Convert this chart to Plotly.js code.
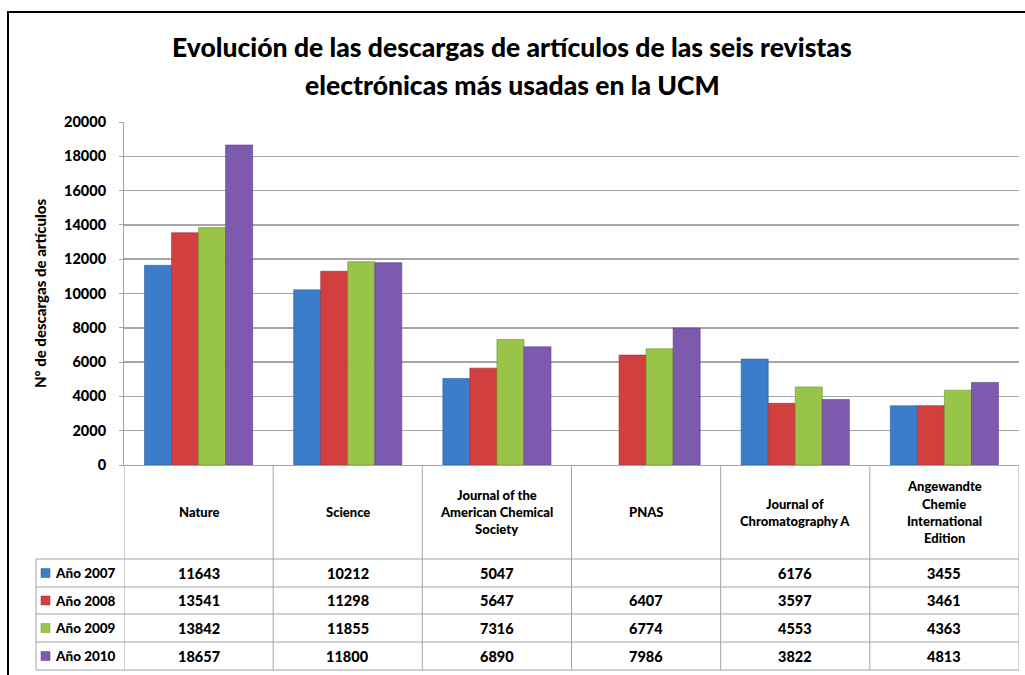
<!DOCTYPE html>
<html><head><meta charset="utf-8">
<script src="https://cdn.plot.ly/plotly-3.0.1.min.js"></script>
<style>body{margin:0;background:#fff}#chart{width:1025px;height:675px}</style>
</head><body><div id="chart"></div>
<script>
const categories = ['Nature','Science','Journal of the American Chemical Society','PNAS','Journal of Chromatography A','Angewandte Chemie International Edition'];
const categoryLabels = ['Nature','Science','Journal of the<br>American Chemical<br>Society','PNAS','Journal of<br>Chromatography A','Angewandte<br>Chemie<br>International<br>Edition'];
const seriesNames = ['Año 2007','Año 2008','Año 2009','Año 2010'];
const y2007 = [11643,10212,5047,null,6176,3455];
const y2008 = [13541,11298,5647,6407,3597,3461];
const y2009 = [13842,11855,7316,6774,4553,4363];
const y2010 = [18657,11800,6890,7986,3822,4813];
const yTickVals = [0,2000,4000,6000,8000,10000,12000,14000,16000,18000,20000];
const titleLines = ['Evolución de las descargas de artículos de las seis revistas','electrónicas más usadas en la UCM'];
const yTitle = 'Nº de descargas de artículos';

const seriesValues = [y2007,y2008,y2009,y2010];
const colors = ['#3b7dcb','#d23f3f','#98c447','#7d5aae'];
const lineColors = ['#2c5f9e','#a02c2c','#6f9430','#5c4285'];
const FONT = 'Lato, "Open Sans", sans-serif';
const W9 = 900;

// plot-area pixel geometry
const L = 124, R = 1019, T = 122, B = 465;
const px = x => (x - L) / (R - L);
const py = y => (B - y) / (B - T);

const traces = seriesNames.map((n, s) => ({
  type: 'bar', name: n, x: categories, y: seriesValues[s],
  marker: {color: colors[s], line: {color: lineColors[s], width: 0.6}},
  showlegend: false, hoverinfo: 'skip'
}));

const gridC = '#a6a6a6';
const shapes = [];
const annotations = [];
// outer frame
shapes.push({type:'rect', xref:'paper', yref:'paper', x0:px(8), x1:px(1035), y0:py(12), y1:py(700), line:{color:'#000', width:2}, layer:'below'});
// table rows
const rowY = [559, 587, 614, 642, 670];
rowY.forEach((y, i) => {
  shapes.push({type:'line', xref:'paper', yref:'paper', x0:px(36), x1:px(R), y0:py(y), y1:py(y), line:{color:gridC, width:1}});
});
// vertical lines at category boundaries
for (let i = 0; i <= categories.length; i++) {
  shapes.push({type:'line', xref:'x', yref:'paper', x0:i-0.5, x1:i-0.5, y0:py(B), y1:py(670), line:{color:gridC, width:1}});
}
shapes.push({type:'line', xref:'paper', yref:'paper', x0:px(36), x1:px(36), y0:py(559), y1:py(670), line:{color:gridC, width:1}});

// title
titleLines.forEach((t, i) => annotations.push({xref:'paper', yref:'paper', x:px(512), y:py(47 + i*38), text:t, showarrow:false, xanchor:'center', yanchor:'middle', font:{family:FONT, size:26.5, color:'#000', weight:W9}}));
// y title
annotations.push({xref:'paper', yref:'paper', x:px(40), y:py(293), text:yTitle, textangle:-90, showarrow:false, xanchor:'center', yanchor:'middle', font:{family:FONT, size:15, color:'#000', weight:W9}});
// category headers
categoryLabels.forEach((lab, i) => {
  const parts = lab.split('<br>');
  const lh = 17;
  const y0 = 512 - (parts.length - 1) * lh / 2;
  parts.forEach((p, k) => annotations.push({xref:'x', yref:'paper', x:i, y:py(y0 + k*lh), text:p, showarrow:false, xanchor:'center', yanchor:'middle', font:{family:FONT, size:13, color:'#000', weight:W9}}));
});
// value rows + legend keys
seriesNames.forEach((n, s) => {
  const yc = (rowY[s] + rowY[s+1]) / 2;
  seriesValues[s].forEach((v, i) => {
    if (v !== null) annotations.push({xref:'x', yref:'paper', x:i, y:py(yc), text:String(v), showarrow:false, xanchor:'center', yanchor:'middle', font:{family:FONT, size:14.5, color:'#000', weight:W9}});
  });
  shapes.push({type:'rect', xref:'paper', yref:'paper', x0:px(41), x1:px(50), y0:py(yc-4.5), y1:py(yc+4.5), fillcolor:colors[s], line:{color:lineColors[s], width:0.5}});
  annotations.push({xref:'paper', yref:'paper', x:px(53), y:py(yc), text:n, showarrow:false, xanchor:'left', yanchor:'middle', font:{family:FONT, size:13.5, color:'#000', weight:W9}});
});

const layout = {
  width:1025, height:675,
  margin:{l:L, r:1025-R, t:T, b:675-B},
  paper_bgcolor:'#fff', plot_bgcolor:'#fff',
  barmode:'group', bargap:0.275, bargroupgap:0,
  showlegend:false,
  xaxis:{type:'category', range:[-0.5, categories.length-0.5], showticklabels:false, ticks:'', showgrid:false, showline:true, linecolor:gridC, linewidth:1, zeroline:false, fixedrange:true},
  yaxis:{range:[0,20000], tickvals:yTickVals, ticktext:yTickVals.map(String), showgrid:true, gridcolor:gridC, gridwidth:1.5, showline:true, linecolor:gridC, linewidth:1, ticks:'outside', ticklen:4, tickcolor:gridC, ticklabelstandoff:10, zeroline:false, tickfont:{family:FONT, size:14.5, color:'#000', weight:W9}, fixedrange:true},
  shapes:shapes, annotations:annotations
};
Plotly.newPlot('chart', traces, layout, {displayModeBar:false, staticPlot:true});
</script></body></html>
